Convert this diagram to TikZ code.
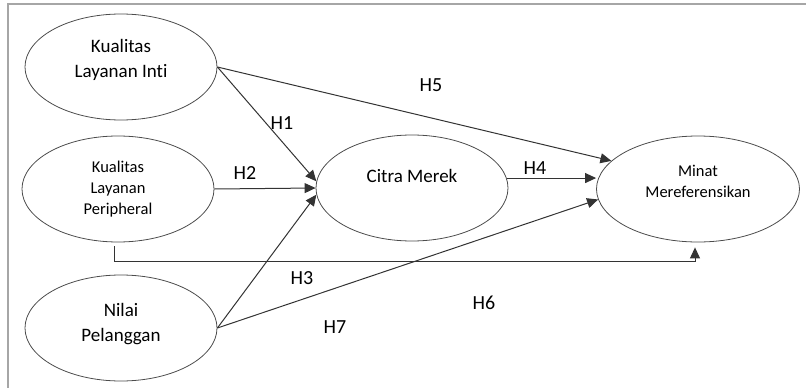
\documentclass[tikz,border=0pt]{standalone}
\usepackage{fontspec}
\setmainfont{Carlito}[Ligatures=NoCommon]
\usetikzlibrary{shapes.geometric, arrows.meta, calc}

\begin{document}
\begin{tikzpicture}[x=1pt, y=-1pt,
		var/.style={ellipse, draw=black!70, line width=0.8pt, minimum width=192pt, minimum height=106pt, inner sep=0pt, align=center, font=\fontsize{19}{25}\selectfont},
		varsmall/.style={var, font=\fontsize{16.5}{21}\selectfont},
		arr/.style={draw=black!80, line width=1pt, -{Triangle[length=11pt, width=10pt]}},
		hyp/.style={font=\fontsize{20}{24}\selectfont}]
	\useasboundingbox (0,0) rectangle (806,388);
	\draw[black!35, line width=2pt] (8,388) -- (8,4) -- (806,4);

	\node[var] (inti) at (121,67) {Kualitas\\Layanan Inti\\[-8pt]\mbox{}};
	\node[varsmall] (periph) at (118,189) {Kualitas\\Layanan\\Peripheral};
	\node[var] (nilai) at (121,328) {Nilai\\Pelanggan\\[-14pt]\mbox{}};
	\node[var] (citra) at (412,188) {Citra Merek\\\mbox{}};
	\node[varsmall, minimum width=203pt] (minat) at (698,189) {Minat\\Mereferensikan\\[-6pt]\mbox{}};

	\coordinate (h6s) at ($(periph.south)+(-4,4)$);
	\coordinate (h6e) at ($(minat.south)+(-3,5)$);

	\draw[arr] (inti.east) -- (citra.176);
	\draw[arr] (inti.east) -- (minat.162);
	\draw[arr] (periph.east) -- (citra.west);
	\draw[arr] (nilai.east) -- (citra.184);
	\draw[arr] (nilai.east) -- (minat.186);
	\draw[arr] (citra.6) -- (citra.6 -| minat.west);
	\draw[arr] (h6s) -- ++(0,15) -| (h6e);

	\node[hyp] (h1) at (282,123) {H1};
	\node[hyp] (h2) at (245,173) {H2};
	\node[hyp] (h3) at (302,278) {H3};
	\node[hyp] (h4) at (535,168) {H4};
	\node[hyp] (h5) at (431,85) {H5};
	\node[hyp] (h6) at (484,303) {H6};
	\node[hyp] (h7) at (335,327) {H7};
\end{tikzpicture}
\end{document}
